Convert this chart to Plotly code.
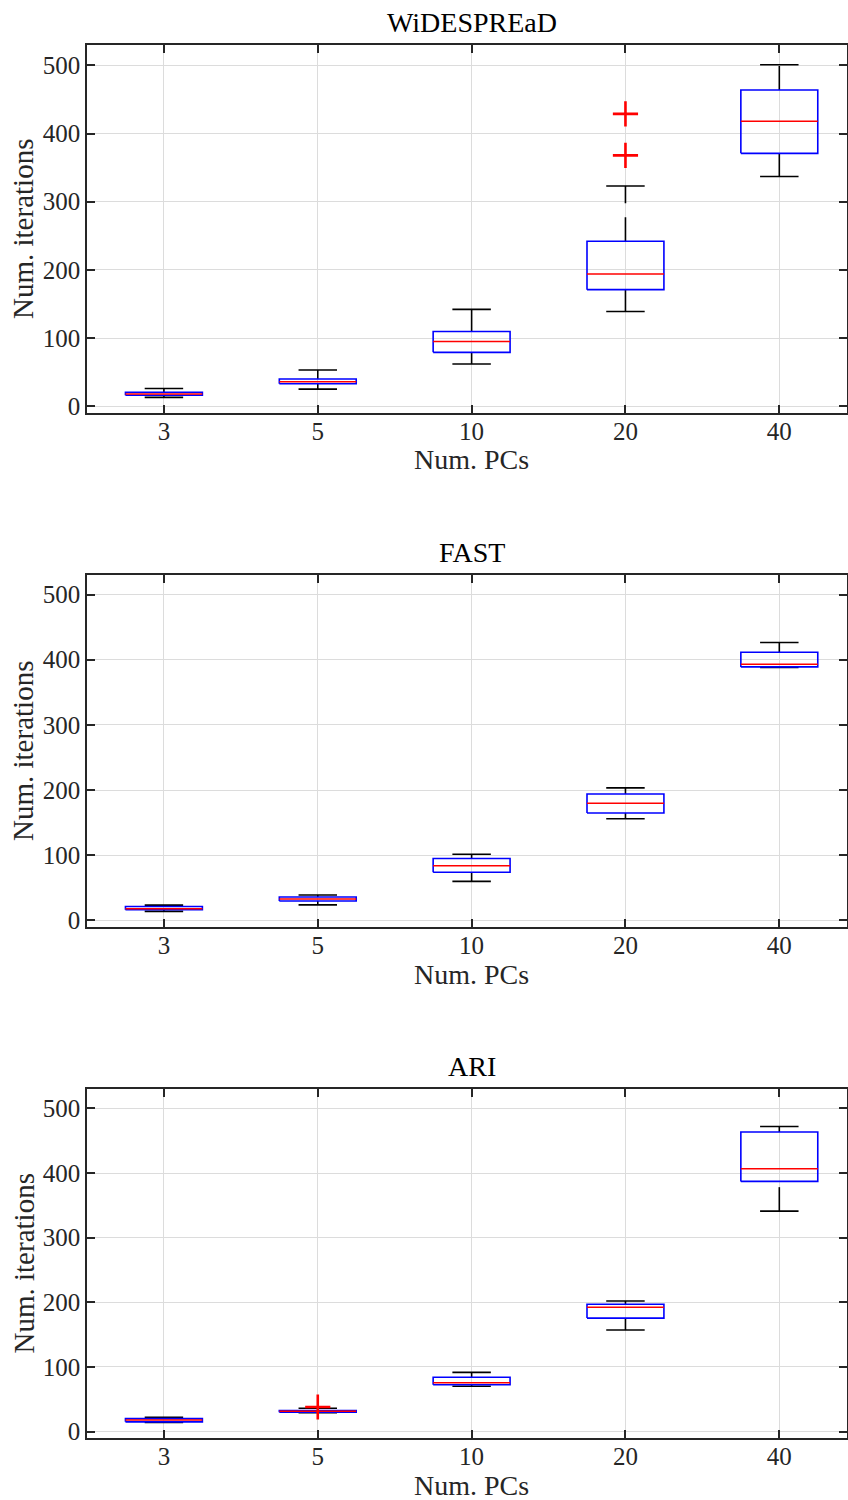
import plotly.graph_objects as go

# ---------------- data ----------------
categories = ["3", "5", "10", "20", "40"]

wid_lower = [13, 25, 62, 139, 337]
wid_q1 = [16, 33, 79, 171, 371]
wid_median = [18, 36, 95, 194, 418]
wid_q3 = [20.5, 40, 109.5, 242, 464]
wid_upper = [26, 53, 142, 323, 501]
wid_out_cat = ["20", "20"]
wid_out_val = [368, 429]

fast_lower = [14, 24, 60, 156, 388]
fast_q1 = [16.5, 30, 74, 165, 389]
fast_median = [18, 33, 84, 180, 393]
fast_q3 = [21.5, 36, 95, 194, 411.5]
fast_upper = [23.5, 39, 101.5, 203.5, 426.5]
fast_out_cat = []
fast_out_val = []

ari_lower = [14, 29, 70, 157, 341]
ari_q1 = [15, 30, 72.5, 175.5, 387]
ari_median = [18, 31.5, 75.5, 192.5, 406.5]
ari_q3 = [20, 32.5, 84, 197, 463.5]
ari_upper = [22, 36, 91.5, 202, 472]
ari_out_cat = ["5"]
ari_out_val = [38]

titles = ["WiDESPREaD", "FAST", "ARI"]
xlabel = "Num. PCs"
ylabel = "Num. iterations"
yticks = [0, 100, 200, 300, 400, 500]

panels = [
    (wid_lower, wid_q1, wid_median, wid_q3, wid_upper, wid_out_cat, wid_out_val),
    (fast_lower, fast_q1, fast_median, fast_q3, fast_upper, fast_out_cat, fast_out_val),
    (ari_lower, ari_q1, ari_median, ari_q3, ari_upper, ari_out_cat, ari_out_val),
]

# ---------------- style ----------------
FONT = "Liberation Serif"
TXT = "#262626"
GRID = "#dcdcdc"
W, H = 848, 1500
BOX_HALF = 0.25
CAP_HALF = 0.125
# plot-area pixel extents (top, bottom) per panel
rows_px = [(45, 413), (575, 927), (1089, 1438)]

fig = go.Figure()

pos = {c: i + 1 for i, c in enumerate(categories)}

for k, (lo, q1, med, q3, up, ocat, oval) in enumerate(panels):
    xa = "x" if k == 0 else f"x{k+1}"
    ya = "y" if k == 0 else f"y{k+1}"
    xs = [pos[c] for c in categories]
    # whiskers (dashed): upper drawn from q3 to upper, lower from lower to q1
    for x, a, b, c, d in zip(xs, lo, q1, q3, up):
        fig.add_trace(go.Scatter(x=[x, x], y=[c, d], mode="lines", xaxis=xa, yaxis=ya,
                                 line=dict(color="black", width=1.6, dash="24px,14px"),
                                 hoverinfo="skip", showlegend=False))
        fig.add_trace(go.Scatter(x=[x, x], y=[a, b], mode="lines", xaxis=xa, yaxis=ya,
                                 line=dict(color="black", width=1.6, dash="24px,14px"),
                                 hoverinfo="skip", showlegend=False))
    # caps
    cx, cy = [], []
    for x, a, d in zip(xs, lo, up):
        cx += [x - CAP_HALF, x + CAP_HALF, None, x - CAP_HALF, x + CAP_HALF, None]
        cy += [d, d, None, a, a, None]
    fig.add_trace(go.Scatter(x=cx, y=cy, mode="lines", xaxis=xa, yaxis=ya,
                             line=dict(color="black", width=1.6),
                             hoverinfo="skip", showlegend=False))
    # boxes
    bx, by = [], []
    for x, b, c in zip(xs, q1, q3):
        bx += [x - BOX_HALF, x + BOX_HALF, x + BOX_HALF, x - BOX_HALF, x - BOX_HALF, None]
        by += [b, b, c, c, b, None]
    fig.add_trace(go.Scatter(x=bx, y=by, mode="lines", xaxis=xa, yaxis=ya,
                             line=dict(color="#0000ff", width=1.6),
                             hoverinfo="skip", showlegend=False))
    # medians
    mx, my = [], []
    for x, m in zip(xs, med):
        mx += [x - BOX_HALF, x + BOX_HALF, None]
        my += [m, m, None]
    fig.add_trace(go.Scatter(x=mx, y=my, mode="lines", xaxis=xa, yaxis=ya,
                             line=dict(color="#ff0000", width=1.5),
                             hoverinfo="skip", showlegend=False))
    # outliers
    if oval:
        fig.add_trace(go.Scatter(x=[pos[c] for c in ocat], y=oval, mode="markers",
                                 xaxis=xa, yaxis=ya,
                                 marker=dict(symbol="cross-thin", size=18,
                                             line=dict(color="#ff0000", width=2.6)),
                                 hoverinfo="skip", showlegend=False))

layout = dict(
    width=W, height=H,
    margin=dict(l=87, r=1, t=0, b=0, autoexpand=False),
    paper_bgcolor="white", plot_bgcolor="white",
    font=dict(family=FONT, color=TXT, size=25),
    showlegend=False,
)
annotations = []
for k in range(3):
    top, bot = rows_px[k]
    xkey = "xaxis" if k == 0 else f"xaxis{k+1}"
    ykey = "yaxis" if k == 0 else f"yaxis{k+1}"
    xa = "x" if k == 0 else f"x{k+1}"
    ya = "y" if k == 0 else f"y{k+1}"
    layout[xkey] = dict(
        domain=[0, 1], anchor=ya, range=[0.5, 5.44], automargin=False,
        tickvals=list(range(1, len(categories) + 1)), ticktext=categories,
        ticks="inside", ticklen=8, tickwidth=1.5, tickcolor=TXT,
        showline=True, linecolor=TXT, linewidth=1.5, mirror="allticks",
        showgrid=True, gridcolor=GRID, gridwidth=1, zeroline=False,
        tickfont=dict(family=FONT, size=25, color=TXT),
        ticklabelstandoff=-5,
    )
    layout[ykey] = dict(
        domain=[1 - bot / H, 1 - top / H], anchor=xa, range=[-10, 530], automargin=False,
        tickvals=yticks, ticks="inside", ticklen=8, tickwidth=1.5, tickcolor=TXT,
        showline=True, linecolor=TXT, linewidth=1.5, mirror="allticks",
        showgrid=True, gridcolor=GRID, gridwidth=1, zeroline=False,
        tickfont=dict(family=FONT, size=25, color=TXT),
    )
    annotations.append(dict(text=titles[k], xref=xa, x=3, yref="paper",
                            y=1 - (top - 22.5) / H, xanchor="center", yanchor="middle",
                            showarrow=False, font=dict(family=FONT, size=28, color="black")))
    annotations.append(dict(text=xlabel, xref=xa, x=3, yref="paper",
                            y=1 - (bot + 47) / H, xanchor="center", yanchor="middle",
                            showarrow=False, borderpad=0,
                            font=dict(family=FONT, size=28, color=TXT)))
    annotations.append(dict(text=ylabel, xref="paper", x=0, xshift=-64, yref="paper",
                            y=1 - (top + bot) / 2 / H, xanchor="center", yanchor="middle",
                            textangle=-90, showarrow=False,
                            font=dict(family=FONT, size=29, color=TXT)))
layout["annotations"] = annotations
fig.update_layout(**layout)

fig.write_html("out.html", config={"displayModeBar": False},
               post_script="document.body.style.margin='0px';document.body.style.overflow='hidden';")
